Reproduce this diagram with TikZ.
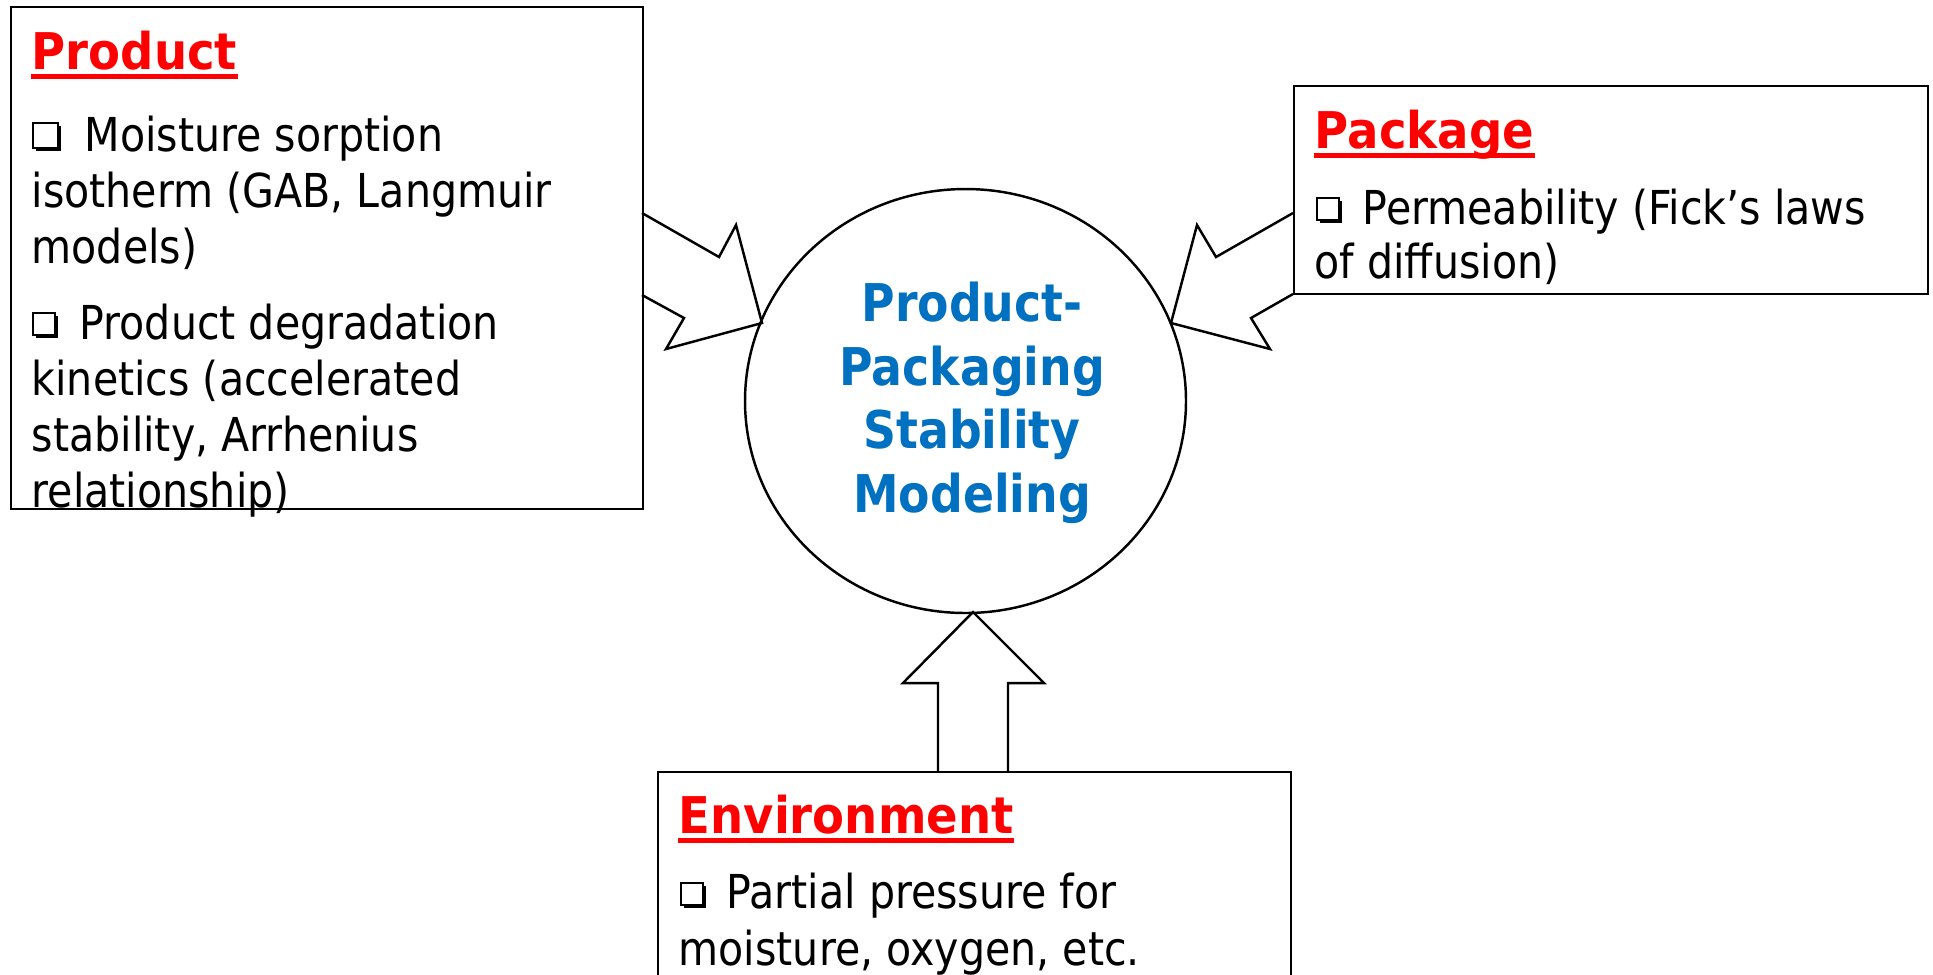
\documentclass[tikz,border=0pt]{standalone}
\usepackage{fontspec}
\usetikzlibrary{shapes.geometric}
\newfontfamily\bodyfont[FakeStretch=0.88]{DejaVu Sans}
\newfontfamily\headfont[FakeStretch=0.92]{DejaVu Sans}
\newfontfamily\circfont[FakeStretch=0.88]{DejaVu Sans}
\definecolor{titlered}{RGB}{255,0,0}
\definecolor{modelblue}{RGB}{0,112,192}
\newcommand\ckbox[3]{%
  \fill (#1+3,#2+3) rectangle (#1+#3,#2+#3);
  \filldraw[fill=white,line width=0.5pt] (#1,#2) rectangle (#1+#3-3,#2+#3-3);}
\tikzset{
  box/.style={draw, line width=0.7pt, anchor=north west, inner sep=0pt},
  body/.style={anchor=base west, inner sep=0pt, font=\bodyfont\fontsize{13.3}{15.9}\selectfont},
  head/.style={anchor=base west, inner sep=0pt, text=titlered, font=\headfont\bfseries\fontsize{14.4}{17}\selectfont},
  uline/.style={titlered, line width=1.3pt},
  blockarrow/.style={draw, fill=white, line width=0.7pt, line join=miter},
  modelstyle/.style={align=center, inner sep=0pt, text=modelblue, font=\circfont\bfseries\fontsize{14.8}{18.07}\selectfont}
}
\begin{document}
\begin{tikzpicture}[x=0.1mm,y=-0.1mm]
\useasboundingbox (0,0) rectangle (1933,974);
\clip (0,0) rectangle (1933,974);
\fill[white] (0,0) rectangle (1933,974);

% block arrows
\draw[blockarrow] (642,213) -- (719,257) -- (736,225) -- (762,323) -- (666,349) -- (684,318) -- (642,295);
\draw[blockarrow] (1293,213) -- (1216,257) -- (1197,225) -- (1171,323) -- (1270,349) -- (1251,318) -- (1293,294);
\draw[blockarrow] (938,771) -- (938,683) -- (903,683) -- (973,612) -- (1044,683) -- (1008,683) -- (1008,771);

% boxes
\node[box, minimum width=63.2mm, minimum height=50.2mm] (product) at (10,6) {};
\node[box, minimum width=63.4mm, minimum height=20.8mm] (package) at (1293,85) {};
\node[box, minimum width=63.3mm, minimum height=25mm] (environment) at (657,771) {};

% central ellipse
\node[draw, ellipse, line width=0.7pt, minimum width=44.1mm, minimum height=42.4mm, inner sep=0pt] (model) at (965.5,401) {};
\node[modelstyle] (modeltext) at (972,403) {Product-\\Packaging\\Stability\\Modeling};

% Product
\node[head] (tprod) at (31,69) {Product};
\draw[uline] ([yshift=-0.75mm]tprod.base west) -- ([yshift=-0.75mm]tprod.base east);
\ckbox{33}{123}{28}
\ckbox{33}{313}{25}
\node[body] (pa1) at (84,151) {Moisture sorption};
\node[body] (pa2) at (31,207) {isotherm (GAB, Langmuir};
\node[body] (pa3) at (31,263) {models)};
\node[body] (pb1) at (79,339) {Product degradation};
\node[body] (pb2) at (31,395) {kinetics (accelerated};
\node[body] (pb3) at (31,451) {stability, Arrhenius};
\node[body] (pb4) at (31,507) {relationship)};

% Package
\node[head] (tpack) at (1314,148) {Package};
\draw[uline] ([yshift=-0.75mm]tpack.base west) -- ([yshift=-0.75mm]tpack.base east);
\ckbox{1317}{198}{25}
\node[body] (ka1) at (1362,224) {Permeability (Fick’s laws};
\node[body] (ka2) at (1314,278) {of diffusion)};

% Environment
\node[head] (tenv) at (678,833) {Environment};
\draw[uline] ([yshift=-0.75mm]tenv.base west) -- ([yshift=-0.75mm]tenv.base east);
\ckbox{681}{883}{25}
\node[body] (ea1) at (726,908) {Partial pressure for};
\node[body] (ea2) at (678,965) {moisture, oxygen, etc.};
\end{tikzpicture}
\end{document}
